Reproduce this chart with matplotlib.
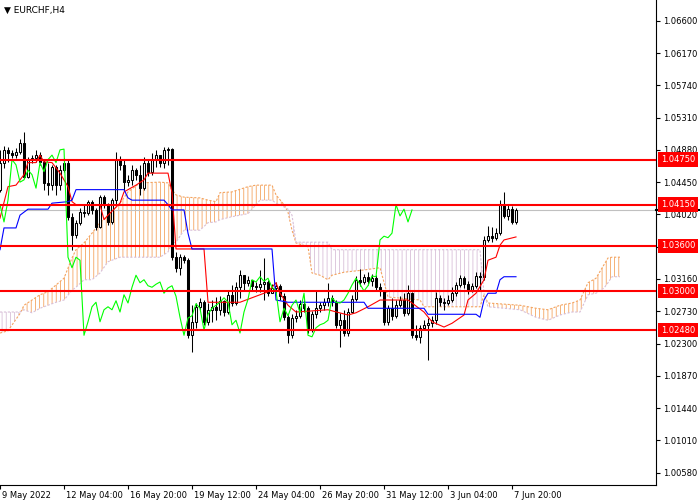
import matplotlib
matplotlib.use('Agg')
import matplotlib.pyplot as plt
import matplotlib.transforms as mtransforms
import numpy as np

symbol = 'EURCHF,H4'

# H4 candles, bar 0 = 9 May 2022 16:00
first_open = 1.0435
close = [
    1.0471, 1.0488, 1.0484, 1.0481, 1.0485, 1.0497, 1.0452, 1.0475, 1.0477, 1.0481,
    1.0472, 1.0444, 1.0441, 1.0465, 1.0441, 1.0461, 1.0471, 1.0399, 1.0375, 1.0391,
    1.0405, 1.0404, 1.0419, 1.0408, 1.0385, 1.0425, 1.0415, 1.0392, 1.0421, 1.0475,
    1.0468, 1.0445, 1.0448, 1.0461, 1.0455, 1.0437, 1.0471, 1.0459, 1.0475, 1.0481,
    1.0471, 1.0488, 1.0489, 1.0345, 1.0331, 1.0345, 1.0341, 1.0241, 1.0259, 1.0279,
    1.0285, 1.0259, 1.0275, 1.0279, 1.0275, 1.0287, 1.0272, 1.0295, 1.0284, 1.0305,
    1.0321, 1.0311, 1.0315, 1.0307, 1.0305, 1.0309, 1.0312, 1.0297, 1.0304, 1.0307,
    1.0293, 1.0265, 1.0241, 1.0264, 1.0267, 1.0283, 1.0277, 1.0248, 1.0269, 1.0277,
    1.0281, 1.0285, 1.0291, 1.0285, 1.0255, 1.0261, 1.0244, 1.0272, 1.0289, 1.0315,
    1.0312, 1.0319, 1.0313, 1.0317, 1.0305, 1.0300, 1.0259, 1.0277, 1.0267, 1.0281,
    1.0288, 1.0271, 1.0297, 1.0241, 1.0239, 1.0251, 1.0255, 1.0257, 1.0261, 1.0291,
    1.0285, 1.0284, 1.0288, 1.0297, 1.0308, 1.0317, 1.0309, 1.0300, 1.0307, 1.0320,
    1.0319, 1.0368, 1.0373, 1.0371, 1.0377, 1.0415, 1.0400, 1.0409, 1.0392, 1.0408,
]
high = [
    1.0488, 1.0493, 1.0492, 1.0488, 1.0491, 1.0503, 1.0512, 1.0479, 1.0481, 1.0488,
    1.0485, 1.0475, 1.0471, 1.0468, 1.0468, 1.0468, 1.0477, 1.0475, 1.0404, 1.0395,
    1.0411, 1.0415, 1.0421, 1.0421, 1.0411, 1.0428, 1.0428, 1.0417, 1.0424, 1.0485,
    1.0480, 1.0475, 1.0455, 1.0468, 1.0464, 1.0468, 1.0479, 1.0475, 1.0484, 1.0488,
    1.0481, 1.0492, 1.0492, 1.0491, 1.0352, 1.0349, 1.0348, 1.0344, 1.0281, 1.0284,
    1.0291, 1.0288, 1.0284, 1.0288, 1.0292, 1.0293, 1.0288, 1.0301, 1.0308, 1.0312,
    1.0328, 1.0317, 1.0320, 1.0315, 1.0312, 1.0328, 1.0344, 1.0315, 1.0309, 1.0312,
    1.0309, 1.0297, 1.0268, 1.0269, 1.0275, 1.0288, 1.0288, 1.0280, 1.0273, 1.0301,
    1.0285, 1.0291, 1.0311, 1.0295, 1.0288, 1.0271, 1.0275, 1.0277, 1.0295, 1.0320,
    1.0329, 1.0323, 1.0325, 1.0323, 1.0321, 1.0311, 1.0301, 1.0281, 1.0291, 1.0288,
    1.0293, 1.0297, 1.0308, 1.0299, 1.0255, 1.0255, 1.0261, 1.0264, 1.0267, 1.0299,
    1.0295, 1.0291, 1.0295, 1.0305, 1.0312, 1.0321, 1.0320, 1.0313, 1.0311, 1.0325,
    1.0325, 1.0373, 1.0387, 1.0385, 1.0384, 1.0421, 1.0432, 1.0415, 1.0413, 1.0411,
]
low = [
    1.0432, 1.0464, 1.0472, 1.0477, 1.0477, 1.0483, 1.0451, 1.0451, 1.0471, 1.0472,
    1.0468, 1.0435, 1.0428, 1.0435, 1.0428, 1.0435, 1.0459, 1.0395, 1.0355, 1.0371,
    1.0388, 1.0399, 1.0401, 1.0403, 1.0381, 1.0384, 1.0411, 1.0388, 1.0389, 1.0415,
    1.0461, 1.0435, 1.0440, 1.0441, 1.0448, 1.0428, 1.0435, 1.0453, 1.0455, 1.0465,
    1.0465, 1.0464, 1.0468, 1.0341, 1.0325, 1.0321, 1.0337, 1.0238, 1.0219, 1.0251,
    1.0275, 1.0255, 1.0255, 1.0259, 1.0261, 1.0268, 1.0267, 1.0269, 1.0280, 1.0281,
    1.0291, 1.0301, 1.0307, 1.0301, 1.0299, 1.0299, 1.0288, 1.0293, 1.0299, 1.0297,
    1.0288, 1.0261, 1.0231, 1.0238, 1.0259, 1.0264, 1.0272, 1.0244, 1.0245, 1.0264,
    1.0272, 1.0275, 1.0280, 1.0280, 1.0251, 1.0226, 1.0240, 1.0240, 1.0271, 1.0287,
    1.0307, 1.0309, 1.0308, 1.0307, 1.0301, 1.0293, 1.0255, 1.0255, 1.0261, 1.0264,
    1.0279, 1.0267, 1.0268, 1.0238, 1.0235, 1.0231, 1.0248, 1.0208, 1.0252, 1.0256,
    1.0280, 1.0275, 1.0281, 1.0285, 1.0293, 1.0305, 1.0304, 1.0296, 1.0299, 1.0304,
    1.0301, 1.0315, 1.0365, 1.0365, 1.0368, 1.0375, 1.0397, 1.0395, 1.0389, 1.0389,
]

# ichimoku lines (bar, value)
tenkan = [
    (0, 1.0397), (2, 1.0439), (4, 1.0441), (6, 1.0455), (7, 1.0471), (9, 1.0471),
    (10, 1.0481), (11, 1.0472), (13, 1.0471), (15, 1.0457), (17, 1.0439), (18, 1.0419),
    (19, 1.0415), (25, 1.0415), (26, 1.0395), (27, 1.0401), (30, 1.0417), (31, 1.0432),
    (34, 1.0441), (36, 1.0448), (37, 1.0457), (42, 1.0457), (43, 1.0431), (44, 1.0356),
    (51, 1.0356), (52, 1.0285), (60, 1.0285), (65, 1.0295), (67, 1.0299), (69, 1.0311),
    (70, 1.0297), (72, 1.0281), (74, 1.0272), (82, 1.0275), (87, 1.0268), (89, 1.0271),
    (92, 1.0279), (95, 1.0288), (102, 1.0288), (106, 1.0272), (108, 1.0259), (111, 1.0252),
    (113, 1.0257), (116, 1.0268), (117, 1.0288), (119, 1.0297), (121, 1.0315), (122, 1.0341),
    (124, 1.0345), (125, 1.0361), (126, 1.0368), (129, 1.0372),
]
kijun = [
    (0, 1.0355), (1, 1.0384), (4, 1.0384), (5, 1.0401), (7, 1.0409), (12, 1.0409),
    (13, 1.0417), (17, 1.0419), (18, 1.0421), (19, 1.0435), (31, 1.0435), (32, 1.0424),
    (33, 1.0421), (41, 1.0421), (42, 1.0415), (43, 1.0408), (46, 1.0408), (47, 1.0377),
    (48, 1.0356), (68, 1.0356), (69, 1.0288), (72, 1.0285), (91, 1.0285), (92, 1.0277),
    (106, 1.0277), (107, 1.0269), (119, 1.0269), (120, 1.0265), (121, 1.0288), (122, 1.0297),
    (124, 1.0297), (125, 1.0315), (126, 1.0319), (129, 1.0319),
]
# senkou span A / B (bar, A, B), already shifted forward
senkou = [
    (0, 1.0244, 1.0272), (2, 1.0247, 1.0272), (5, 1.0270, 1.0272), (6, 1.0281, 1.0275),
    (8, 1.0288, 1.0271), (10, 1.0295, 1.0277), (12, 1.0299, 1.0281), (14, 1.0308, 1.0285),
    (16, 1.0317, 1.0288), (18, 1.0344, 1.0301), (19, 1.0355, 1.0305), (21, 1.0364, 1.0315),
    (23, 1.0377, 1.0315), (25, 1.0391, 1.0324), (27, 1.0401, 1.0339), (30, 1.0417, 1.0345),
    (32, 1.0432, 1.0345), (35, 1.0444, 1.0345), (40, 1.0445, 1.0345), (42, 1.0444, 1.0352),
    (43, 1.0435, 1.0364), (44, 1.0428, 1.0365), (46, 1.0425, 1.0381), (50, 1.0424, 1.0381),
    (52, 1.0421, 1.0391), (54, 1.0419, 1.0392), (55, 1.0431, 1.0395), (58, 1.0432, 1.0399),
    (62, 1.0439, 1.0403), (64, 1.0441, 1.0415), (65, 1.0441, 1.0421), (68, 1.0441, 1.0421),
    (69, 1.0428, 1.0417), (71, 1.0415, 1.0412), (72, 1.0405, 1.0409), (73, 1.0381, 1.0401),
    (74, 1.0364, 1.0365), (77, 1.0359, 1.0365), (78, 1.0324, 1.0365), (80, 1.0321, 1.0365),
    (82, 1.0315, 1.0365), (83, 1.0321, 1.0355), (86, 1.0325, 1.0355), (91, 1.0328, 1.0355),
    (95, 1.0331, 1.0355), (97, 1.0292, 1.0355), (105, 1.0288, 1.0355), (106, 1.0279, 1.0355),
    (120, 1.0279, 1.0355), (121, 1.0295, 1.0297), (122, 1.0284, 1.0279), (130, 1.0281, 1.0275),
    (134, 1.0277, 1.0265), (137, 1.0275, 1.0261), (140, 1.0281, 1.0268), (143, 1.0284, 1.0272),
    (145, 1.0288, 1.0272), (147, 1.0311, 1.0295), (149, 1.0317, 1.0297), (151, 1.0335, 1.0304),
    (152, 1.0344, 1.0311), (153, 1.0345, 1.0319), (155, 1.0345, 1.0319),
]
chikou_shift = 26

levels = [1.04750, 1.04150, 1.03600, 1.03000, 1.02480]
price_ticks = [1.06600, 1.06170, 1.05740, 1.05310, 1.04880, 1.04450, 1.04020,
               1.03590, 1.03160, 1.02730, 1.02300, 1.01870, 1.01440, 1.01010, 1.00580]
date_bars = [0, 16, 32, 48, 64, 80, 96, 112, 128]
date_labels = ['9 May 2022', '12 May 04:00', '16 May 20:00', '19 May 12:00', '24 May 04:00',
               '26 May 20:00', '31 May 12:00', '3 Jun 04:00', '7 Jun 20:00']

plt.rcParams['hatch.linewidth'] = 0.6

fig = plt.figure(figsize=(7, 5), dpi=100)
ax = fig.add_axes([0, 0.03, 656 / 700, 0.97])

close = np.array(close)
high = np.array(high)
low = np.array(low)
opn = np.concatenate([[first_open], close[:-1]])
bars = np.arange(len(close))

# cloud
sb = np.array([s[0] for s in senkou])
sa = np.array([s[1] for s in senkou])
sbv = np.array([s[2] for s in senkou])
ax.fill_between(sb, sa, sbv, where=sa >= sbv, interpolate=True, facecolor='none',
                edgecolor='#F4A460', hatch='||||', linewidth=0, zorder=1)
ax.fill_between(sb, sa, sbv, where=sbv > sa, interpolate=True, facecolor='none',
                edgecolor='#D8BFD8', hatch='||||', linewidth=0, zorder=1)
ax.plot(sb, sa, color='#F4A460', ls=(0, (2, 1.5)), lw=0.8, zorder=1)
ax.plot(sb, sbv, color='#D8BFD8', ls=(0, (2, 1.5)), lw=0.8, zorder=1)

# candles
ax.vlines(bars, low, high, color='black', lw=0.75, zorder=3)
up = close >= opn
body = np.where(np.abs(close - opn) < 0.00004, 0.00004, close - opn)
ax.bar(bars[up], body[up], bottom=opn[up], width=0.6, facecolor='white',
       edgecolor='black', linewidth=0.75, zorder=3)
ax.bar(bars[~up], body[~up], bottom=opn[~up], width=0.6, facecolor='black',
       edgecolor='black', linewidth=0.75, zorder=3)

# ichimoku lines
ax.plot([t[0] for t in tenkan], [t[1] for t in tenkan], color='red', lw=0.8, zorder=4)
ax.plot([k[0] for k in kijun], [k[1] for k in kijun], color='blue', lw=0.8, zorder=4)
ax.plot(bars[chikou_shift:] - chikou_shift, close[chikou_shift:], color='#00FF00',
        lw=0.8, zorder=4)

# levels and bid line
for lv in levels:
    ax.axhline(lv, color='red', lw=1.5, zorder=5)
bid = close[-1]
ax.axhline(bid, color='#C0C0C0', lw=0.8, zorder=2)

ax.set_xlim(0, 164)
ax.set_ylim(1.00416, 1.06876)

ax.spines['top'].set_visible(False)
ax.spines['left'].set_visible(False)
ax.spines['right'].set_linewidth(0.8)
ax.spines['bottom'].set_linewidth(0.8)

# tick labels hidden behind a level label in the terminal are left blank
hidden = [p for p in price_ticks if min(abs(p - lv) for lv in levels) < 0.0002]
ax.yaxis.tick_right()
ax.set_yticks(price_ticks)
ax.set_yticklabels(['' if p in hidden else '%.5f' % p for p in price_ticks])
ax.tick_params(axis='y', direction='out', length=3, width=0.8, pad=2, labelsize=6)

ax.set_xticks(date_bars)
ax.set_xticklabels(date_labels, ha='left')
ax.tick_params(axis='x', direction='out', length=3, width=0.8, pad=1, labelsize=6)
shift = mtransforms.ScaledTranslation(2 / 100, 0, fig.dpi_scale_trans)
for lab in ax.get_xticklabels():
    lab.set_transform(lab.get_transform() + shift)

trans = mtransforms.blended_transform_factory(ax.transAxes, ax.transData)
ax.plot([1.0, 1.066], [bid, bid], color='black', lw=1.5, transform=trans,
        clip_on=False, zorder=6)
for lv in levels:
    ax.text(1.0075, lv, '%.5f' % lv, transform=trans, ha='left', va='center',
            color='white', fontsize=6, clip_on=False, zorder=7,
            bbox=dict(boxstyle='square,pad=0.35', fc='red', ec='none'))

fig.text(0.006, 0.988, '\u25bc ' + symbol, fontsize=6.5, ha='left', va='top')

fig.savefig('out.png', dpi=100)
